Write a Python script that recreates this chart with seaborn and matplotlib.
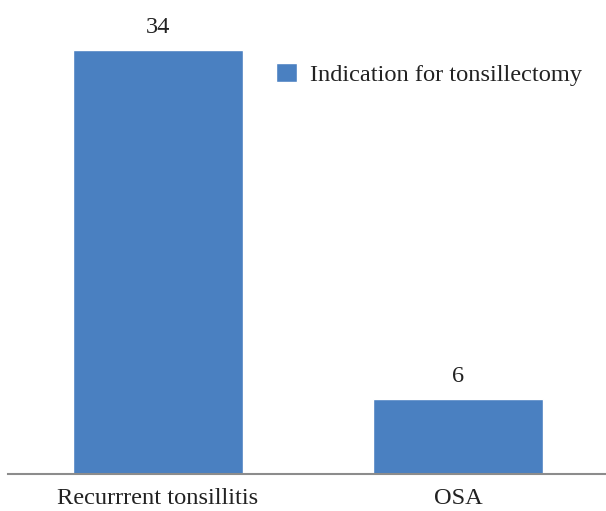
import matplotlib
matplotlib.use("Agg")
import matplotlib.pyplot as plt
import seaborn as sns
import pandas as pd
from matplotlib.patches import Patch

categories = ["Recurrrent tonsillitis", "OSA"]
values = [34, 6]
series_name = "Indication for tonsillectomy"

sns.set_style("white")
plt.rcParams['font.family'] = ['Liberation Serif', 'DejaVu Serif']

FS = 17.6
df = pd.DataFrame({"cat": categories, "val": values})
fig = plt.figure(figsize=(6.06, 5.11), dpi=100)
ax = fig.add_axes([8/606, 1-474/511, 600/606, 464/511])
color = "#4a80c1"
sns.barplot(data=df, x="cat", y="val", color=color, width=0.567, ax=ax, saturation=1)
ax.set_xlim(-0.5, 1.5)
ax.set_ylim(0, 34*464/424)
for i, v in enumerate(values):
    ax.annotate(str(v), (i, v), xytext=(0, 9), textcoords="offset points",
                ha="center", va="bottom", fontsize=FS, color="#222222")
ax.set_xlabel("")
ax.set_ylabel("")
ax.set_yticks([])
ax.tick_params(axis="x", length=0, labelsize=FS, pad=10, colors="#222222")
for s in ["top", "right", "left"]:
    ax.spines[s].set_visible(False)
ax.spines["bottom"].set_color("#8c8c8c")
ax.spines["bottom"].set_linewidth(1.5)
ax.legend(handles=[Patch(facecolor=color, label=series_name)], loc="upper left",
          bbox_to_anchor=(254/606, 1-41/511), bbox_transform=fig.transFigure,
          frameon=False, fontsize=FS, handlelength=0.85, handleheight=0.85,
          handletextpad=0.55, labelcolor="#222222")
fig.savefig("out.png", dpi=100)
